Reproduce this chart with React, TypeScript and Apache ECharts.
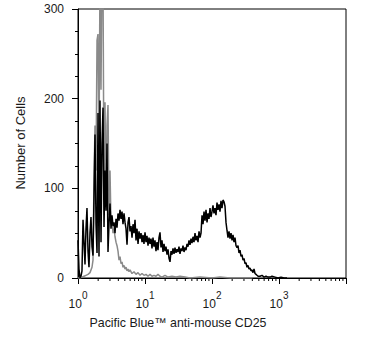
import React, { useEffect, useRef } from "react";
import * as echarts from "echarts";

// Fluorescence intensity (Pacific Blue) vs number of cells
const stainedCells: [number, number][] = [
  [1.0, 42], [1.035, 10], [1.071, 0], [1.109, 2], [1.147, 8], [1.188, 65], [1.229, 40], [1.272, 15],
  [1.316, 55], [1.362, 78], [1.41, 30], [1.459, 12], [1.51, 50], [1.563, 68], [1.618, 35], [1.675, 25],
  [1.733, 90], [1.794, 160], [1.857, 60], [1.922, 28], [1.989, 184], [2.058, 24], [2.13, 198], [2.205, 40],
  [2.282, 150], [2.362, 190], [2.445, 57], [2.529, 120], [2.618, 75], [2.71, 150], [2.804, 29], [2.902, 60],
  [3.004, 83], [3.109, 55], [3.218, 70], [3.33, 58], [3.447, 62], [3.567, 50], [3.692, 66], [3.822, 56],
  [3.955, 72], [4.094, 64], [4.237, 76], [4.385, 66], [4.539, 74], [4.697, 60], [4.862, 72], [5.032, 62],
  [5.208, 55], [5.39, 37], [5.578, 62], [5.773, 68], [5.975, 52], [6.184, 58], [6.4, 45], [6.624, 60],
  [6.856, 50], [7.095, 65], [7.344, 42], [7.6, 55], [7.866, 38], [8.141, 52], [8.426, 44], [8.72, 50],
  [9.02, 40], [9.34, 48], [9.66, 38], [10, 51], [10.35, 40], [10.71, 47], [11.09, 36], [11.47, 45],
  [11.88, 38], [12.29, 44], [12.72, 33], [13.16, 45], [13.62, 35], [14.1, 42], [14.59, 30], [15.1, 40],
  [15.63, 31], [16.18, 45], [16.75, 51], [17.33, 34], [17.94, 42], [18.57, 29], [19.22, 38], [19.89, 30],
  [20.58, 35], [21.3, 26], [22.05, 32], [22.82, 22], [23.62, 18], [24.45, 30], [25.29, 26], [26.18, 33],
  [27.1, 27], [28.04, 34], [29.02, 28], [30.04, 32], [31.09, 29], [32.18, 35], [33.3, 27], [34.47, 33],
  [35.67, 30], [36.92, 36], [38.22, 29], [39.55, 34], [40.94, 31], [42.37, 38], [43.85, 35], [45.39, 42],
  [46.97, 37], [48.62, 44], [50.32, 39], [52.08, 46], [53.9, 40], [55.78, 50], [57.73, 42], [59.75, 47],
  [61.84, 40], [64, 52], [66.24, 45], [68.56, 50], [70.95, 70], [73.44, 60], [76, 74], [78.66, 64],
  [81.41, 76], [84.26, 62], [87.2, 72], [90.2, 66], [93.4, 78], [96.6, 68], [100, 74], [103.5, 81],
  [107.1, 72], [110.9, 78], [114.7, 70], [118.8, 84], [122.9, 76], [127.2, 82], [131.6, 74], [136.2, 86],
  [141, 78], [145.9, 87], [151, 85], [156.3, 80], [161.8, 62], [167.5, 53], [173.3, 45], [179.4, 52],
  [185.7, 44], [192.2, 50], [198.9, 42], [205.8, 48], [213, 40], [220.5, 45], [228.2, 36], [236.2, 34],
  [244.5, 36], [252.9, 28], [261.8, 31], [271, 24], [280.4, 26], [290.2, 20], [300.4, 22], [310.9, 16],
  [321.8, 17], [333, 12], [344.7, 14], [356.7, 10], [369.2, 11], [382.2, 8], [395.5, 9], [409.4, 6],
  [423.7, 10], [438.5, 5], [453.9, 4], [469.7, 3], [486.2, 2], [520.8, 2], [557.8, 3], [597.7, 1],
  [640, 2], [685.6, 1], [734.4, 1], [786.6, 2], [873, 1], [967, 0], [1072, 1], [1188, 0], [1317, 0],
];

const controlCells: [number, number][] = [
  [1.0, 0], [1.071, 0], [1.147, 1], [1.229, 2], [1.316, 3], [1.41, 4], [1.51, 6], [1.618, 12],
  [1.675, 20], [1.733, 110], [1.794, 170], [1.857, 120], [1.922, 265], [1.989, 272], [2.058, 140], [2.13, 340],
  [2.205, 210], [2.282, 350], [2.362, 330], [2.445, 90], [2.529, 196], [2.618, 80], [2.71, 170], [2.804, 193],
  [2.902, 70], [3.004, 120], [3.109, 60], [3.218, 65], [3.33, 50], [3.447, 55], [3.567, 46], [3.692, 40],
  [3.822, 36], [3.955, 30], [4.094, 20], [4.237, 24], [4.385, 16], [4.539, 18], [4.697, 12], [4.862, 14],
  [5.032, 10], [5.208, 12], [5.39, 8], [5.578, 10], [5.773, 7], [5.975, 9], [6.4, 5], [6.856, 7],
  [7.344, 4], [7.866, 6], [8.426, 3], [9.02, 5], [9.66, 3], [10.35, 4], [11.09, 2], [11.88, 4],
  [12.72, 2], [13.62, 3], [14.59, 2], [15.63, 4], [16.75, 2], [17.94, 1], [19.89, 3], [22.05, 1],
  [25.29, 2], [29.02, 1], [33.3, 2], [39.55, 1], [46.97, 0], [66.24, 1], [100, 0], [131.6, 1],
  [185.7, 0], [400, 0],
];

const xMinorTickValues: number[] = [
  2, 3, 4, 5, 6, 7, 8, 9,
  20, 30, 40, 50, 60, 70, 80, 90,
  200, 300, 400, 500, 600, 700, 800, 900,
  2000, 3000, 4000, 5000, 6000, 7000, 8000, 9000,
];

const yTicks = { min: 0, max: 300, interval: 100 };
const xLabel = "Pacific Blue™ anti-mouse CD25";
const yLabel = "Number of Cells";

const FONT = "'Liberation Sans', Arial, Helvetica, sans-serif";
const TEXT = "#1a1a1a";

export default function App() {
  const ref = useRef<HTMLDivElement>(null);
  useEffect(() => {
    if (!ref.current) return;
    const chart = echarts.init(ref.current, undefined, { renderer: "svg" });
    chart.setOption({
      animation: false,
      backgroundColor: "#ffffff",
      grid: {
        left: 78,
        top: 9,
        right: 32,
        bottom: 70,
        show: true,
        borderColor: "#000",
        borderWidth: 1,
        backgroundColor: "transparent",
      },
      xAxis: {
        type: "log",
        logBase: 10,
        min: 1,
        max: 10000,
        splitLine: { show: false },
        axisLine: { lineStyle: { color: "#000", width: 1 } },
        axisTick: { length: 6, lineStyle: { color: "#000" } },
        axisLabel: {
          margin: 12,
          color: TEXT,
          fontFamily: FONT,
          formatter: (v: number) => {
            const e = Math.round(Math.log10(v));
            return e < 4 ? `{b|10}{s|${e}}` : "";
          },
          rich: {
            b: { fontSize: 12, fontFamily: FONT, color: TEXT, verticalAlign: "bottom", lineHeight: 20 },
            s: { fontSize: 10, fontFamily: FONT, color: TEXT, verticalAlign: "top", lineHeight: 20 },
          },
        },
      },
      yAxis: {
        type: "value",
        min: yTicks.min,
        max: yTicks.max,
        interval: yTicks.interval,
        splitLine: { show: false },
        axisLine: { show: true, lineStyle: { color: "#000", width: 1 } },
        axisTick: { show: true, length: 6, lineStyle: { color: "#000" } },
        minorTick: { show: true, splitNumber: 4, length: 3, lineStyle: { color: "#000" } },
        axisLabel: { margin: 14, color: TEXT, fontSize: 12, fontFamily: FONT },
      },
      graphic: [
        {
          type: "text",
          x: 20,
          y: 143,
          rotation: Math.PI / 2,
          style: {
            text: yLabel,
            fontSize: 13,
            fontFamily: FONT,
            fill: TEXT,
            align: "center",
            verticalAlign: "middle",
          },
        },
        {
          type: "text",
          x: 178,
          y: 323,
          style: {
            text: xLabel,
            fontSize: 12.4,
            fontFamily: FONT,
            fill: TEXT,
            align: "center",
            verticalAlign: "middle",
          },
        },
      ],
      series: [
        {
          type: "custom",
          silent: true,
          clip: false,
          data: xMinorTickValues.map((v) => [v, 0]),
          renderItem: (_params: any, api: any) => {
            const p = api.coord([api.value(0), 0]);
            return {
              type: "line",
              shape: { x1: p[0], y1: p[1], x2: p[0], y2: p[1] + 3 },
              style: { stroke: "#000", lineWidth: 1 },
            };
          },
        },
        {
          type: "line",
          data: controlCells,
          symbol: "none",
          showSymbol: false,
          clip: true,
          lineStyle: { color: "#8a8a8a", width: 1.5 },
          itemStyle: { color: "#8a8a8a" },
        },
        {
          type: "line",
          data: stainedCells,
          symbol: "none",
          showSymbol: false,
          clip: true,
          lineStyle: { color: "#000", width: 1.5 },
          itemStyle: { color: "#000" },
        },
      ],
    });
    return () => chart.dispose();
  }, []);
  return (
    <div
      ref={ref}
      style={{ position: "fixed", left: 0, top: 0, width: 378, height: 348, background: "#fff" }}
    />
  );
}
